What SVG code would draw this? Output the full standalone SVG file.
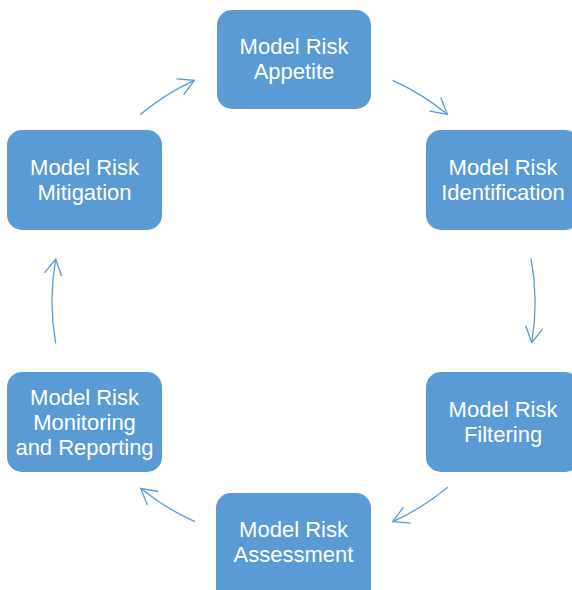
<svg xmlns="http://www.w3.org/2000/svg" width="572" height="590" viewBox="0 0 572 590">
<style>
.node rect{fill:#5B9BD5;}
.node text{fill:#FFFFFF;font-family:"Liberation Sans",Arial,Helvetica,sans-serif;font-size:22px;text-anchor:middle;}
.conn path{fill:none;stroke:#5B9BD5;stroke-width:1.3;}
</style>
<defs>
<marker id="arr" markerUnits="userSpaceOnUse" markerWidth="24" markerHeight="24" refX="0" refY="0" viewBox="-20 -12 24 24" orient="auto" overflow="visible">
<path d="M-15.7,-8.7 L0,0 L-15.7,8.7" fill="none" stroke="#5B9BD5" stroke-width="1.3"/>
</marker>
</defs>
<rect width="572" height="590" fill="#FFFFFF"/>
<g class="conn" id="connectors">
<path d="M140,114.7 A240,240 0 0 1 194.3,80.3" marker-end="url(#arr)"/>
<path d="M392.7,80.3 A240,240 0 0 1 447.3,114.3" marker-end="url(#arr)"/>
<path d="M531,258.3 A240,240 0 0 1 531.7,342.7" marker-end="url(#arr)"/>
<path d="M447.7,487.3 A240,240 0 0 1 392.7,521.7" marker-end="url(#arr)"/>
<path d="M195,521.7 A240,240 0 0 1 140.7,488.3" marker-end="url(#arr)"/>
<path d="M55.7,343.3 A240,240 0 0 1 55.7,259" marker-end="url(#arr)"/>
</g>
<g class="node" id="appetite">
<rect x="217" y="10" width="154" height="99" rx="15"/>
<text x="294" y="54">Model Risk</text>
<text x="294" y="79">Appetite</text>
</g>
<g class="node" id="identification">
<rect x="426" y="130" width="154" height="100" rx="15"/>
<text x="503" y="175">Model Risk</text>
<text x="503" y="200">Identification</text>
</g>
<g class="node" id="filtering">
<rect x="426" y="372" width="154" height="100" rx="15"/>
<text x="503" y="417">Model Risk</text>
<text x="503" y="442">Filtering</text>
</g>
<g class="node" id="assessment">
<rect x="216" y="493" width="155" height="110" rx="15"/>
<text x="293.5" y="537">Model Risk</text>
<text x="293.5" y="562">Assessment</text>
</g>
<g class="node" id="monitoring">
<rect x="7" y="372" width="155" height="100" rx="15"/>
<text x="84.5" y="405">Model Risk</text>
<text x="84.5" y="430">Monitoring</text>
<text x="84.5" y="454.5">and Reporting</text>
</g>
<g class="node" id="mitigation">
<rect x="7" y="130" width="155" height="100" rx="15"/>
<text x="84.5" y="175">Model Risk</text>
<text x="84.5" y="200">Mitigation</text>
</g>
</svg>
